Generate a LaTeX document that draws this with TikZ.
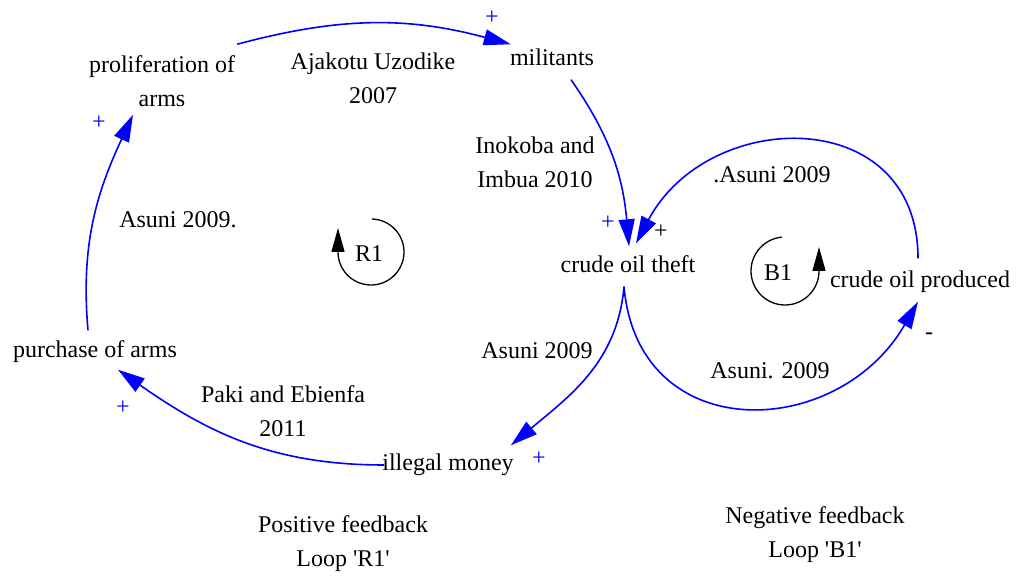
\documentclass[tikz,border=0pt]{standalone}
\usepackage{fontspec}
\setmainfont{Liberation Serif}
\usetikzlibrary{arrows.meta}
\definecolor{linkblue}{RGB}{0,0,255}

\begin{document}
\begin{tikzpicture}[x=1pt,y=1pt,
    every node/.style={font=\fontsize{24}{34}\selectfont, align=center,
        inner sep=1pt},
    oneline/.style={text height=16pt, text depth=5pt},
    link/.style={draw=linkblue, line width=1.6pt,
        -{Triangle[length=27pt,width=16pt]}},
    pol/.style={text=linkblue},
    loopsym/.style={line width=1.3pt,
        -{Triangle[length=24pt,width=13pt]}}]
    \useasboundingbox (0,0) rectangle (1019,578);

    % variables
    \node (prolif) at (162,497) {proliferation of\\arms};
    \node[oneline] (militants) at (552,518) {militants};
    \node[oneline] (theft) at (628,311) {crude oil theft};
    \node[oneline] (produced) at (920,296) {crude oil produced};
    \node[oneline] (purchase) at (95,226) {purchase of arms};
    \node[oneline] (money) at (448,113) {illegal money};

    % references
    \node (ajakotu) at (373,500) {Ajakotu Uzodike\\2007};
    \node (inokoba) at (535,416) {Inokoba and\\Imbua 2010};
    \node[oneline] (asuniA) at (772,401) {.Asuni 2009};
    \node[oneline] (asuniB) at (178,356) {Asuni 2009.};
    \node[oneline] (asuniC) at (537,225) {Asuni 2009};
    \node[oneline] (asuniD) at (770,205) {Asuni. 2009};
    \node (paki) at (283,167) {Paki and Ebienfa\\2011};

    % loop captions
    \node (posfb) at (343,34) {Positive feedback\\Loop \textquotesingle R1\textquotesingle};
    \node (negfb) at (815,43) {Negative feedback\\Loop \textquotesingle B1\textquotesingle};

    % links
    \draw[link] ([xshift=1pt,yshift=10pt]prolif.north east)
        to[out=15,in=165] ([xshift=2pt,yshift=4pt]militants.north west);
    \draw[link] ([xshift=19pt,yshift=-8pt]militants.south)
        to[out=-55,in=95] ([xshift=1pt,yshift=9pt]theft.north);
    \draw[link] ([xshift=-2pt,yshift=12pt]produced.north)
        to[out=90,in=62,looseness=1.4] ([xshift=8pt,yshift=12pt]theft.north);
    \draw[link] ([xshift=-4pt,yshift=-8pt]theft.south)
        to[out=-95,in=40] ([xshift=-4pt,yshift=8pt]money.north east);
    \draw[link] ([xshift=-4pt,yshift=-8pt]theft.south)
        to[out=-85,in=-120,looseness=1.4] ([xshift=-2pt,yshift=-8pt]produced.south);
    \draw[link] ([xshift=3pt]money.west)
        to[out=180,in=-35] ([xshift=23pt,yshift=-6pt]purchase.south);
    \draw[link] ([xshift=-7pt,yshift=10pt]purchase.north)
        to[out=95,in=-115] ([xshift=-29pt,yshift=-7pt]prolif.south);

    % polarities
    \node[pol] (plusA) at (492,560) {+};
    \node[pol] (plusB) at (608,355) {+};
    \node (plusC) at (661,346) {+};
    \node (minusA) at (929,242) {-};
    \node[pol] (plusD) at (539,119) {+};
    \node[pol] (plusE) at (123,170) {+};
    \node[pol] (plusF) at (99,455) {+};

    % loop symbols
    \node (rone) at (369,324) {R1};
    \draw[loopsym] ([shift={(88:33)}]rone.center) ++(2,2)
        arc[start angle=88,end angle=-180,radius=33] -- ++(0,24);
    \node (bone) at (778,305) {B1};
    \draw[loopsym] ([shift={(95:34)}]bone.center) ++(7,2)
        arc[start angle=95,end angle=360,radius=34] -- ++(0,24);
\end{tikzpicture}
\end{document}
